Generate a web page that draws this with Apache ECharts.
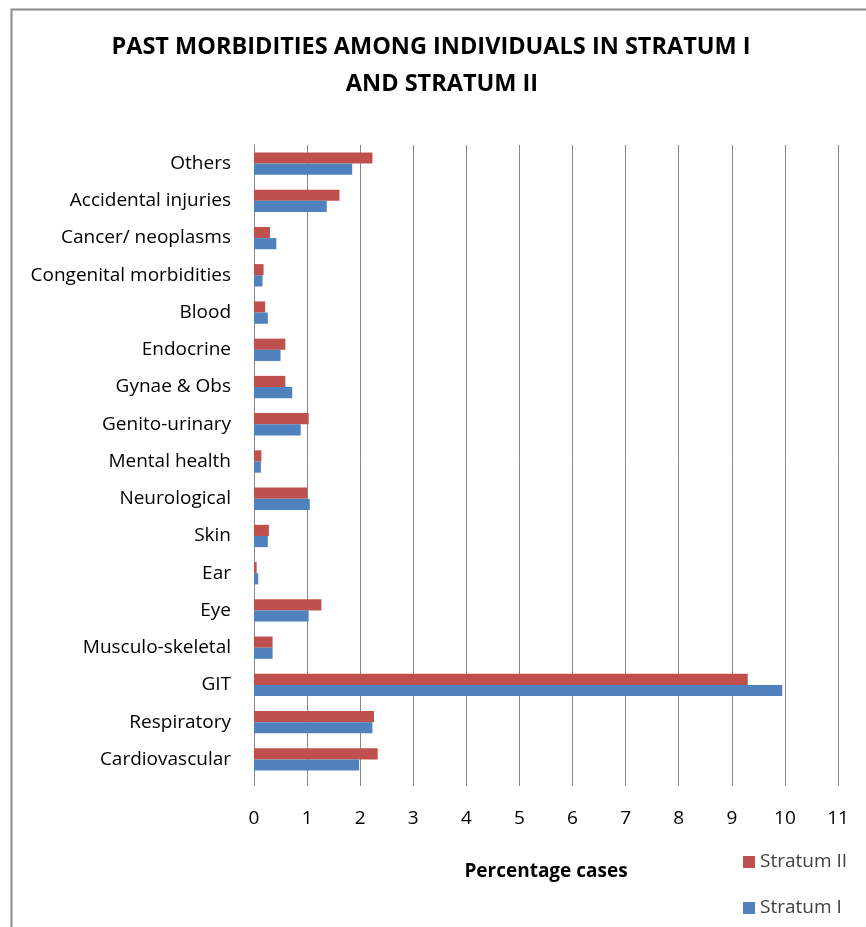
<!DOCTYPE html>
<html>
<head>
<meta charset="utf-8">
<script src="https://cdn.jsdelivr.net/npm/echarts@6/dist/echarts.min.js"></script>
<style>
html,body{margin:0;padding:0;background:#fff;}
#chart{width:866px;height:927px;}
</style>
</head>
<body>
<div id="chart"></div>
<script>
const categories = ['Cardiovascular','Respiratory','GIT','Musculo-skeletal','Eye','Ear','Skin','Neurological','Mental health','Genito-urinary','Gynae & Obs','Endocrine','Blood','Congenital morbidities','Cancer/ neoplasms','Accidental injuries','Others'];
const stratumI  = [1.98, 2.23, 9.95, 0.35, 1.03, 0.08, 0.26, 1.05, 0.13, 0.88, 0.72, 0.50, 0.26, 0.16, 0.42, 1.37, 1.85];
const stratumII = [2.33, 2.26, 9.30, 0.35, 1.27, 0.05, 0.28, 1.00, 0.14, 1.03, 0.59, 0.59, 0.21, 0.18, 0.30, 1.61, 2.23];
const xTicks = [0,1,2,3,4,5,6,7,8,9,10,11];
const titleLines = ['PAST MORBIDITIES AMONG INDIVIDUALS IN STRATUM I', 'AND STRATUM II'];

const FONT = '"Open Sans", "Noto Sans", sans-serif';
const chart = echarts.init(document.getElementById('chart'), null, {renderer:'canvas'});
chart.setOption({
  backgroundColor:'#ffffff',
  animation:false,
  graphic:[
    {
      type:'rect', left:9, top:7, silent:true,
      shape:{x:0,y:0,width:880,height:940},
      style:{fill:'none', stroke:'#8c8c8c', lineWidth:2}
    },
    {
      type:'text', x:431, y:47.5, silent:true,
      style:{text:titleLines[0], fill:'#000', font:'bold 23.5px "Open Sans", sans-serif', textAlign:'center', textVerticalAlign:'middle'}
    },
    {
      type:'text', x:442, y:84.5, silent:true,
      style:{text:titleLines[1], fill:'#000', font:'bold 23.5px "Open Sans", sans-serif', textAlign:'center', textVerticalAlign:'middle'}
    }
  ],
  legend:{
    orient:'vertical', left:738, top:846,
    itemWidth:12, itemHeight:12, itemGap:24,
    icon:'rect',
    data:['Stratum II','Stratum I'],
    textStyle:{fontFamily:FONT, fontSize:19, lineHeight:22, color:'#404040'}
  },
  grid:{left:254, right:28, top:145, bottom:149, containLabel:false},
  xAxis:{
    type:'value', min:0, max:xTicks[xTicks.length-1], interval:1,
    axisLine:{show:false},
    axisTick:{show:true, length:8, lineStyle:{color:'#868686', width:1}},
    splitLine:{show:true, lineStyle:{color:'#868686', width:1}},
    axisLabel:{fontFamily:FONT, fontSize:19, color:'#000', margin:31},
    name:'Percentage cases', nameLocation:'middle', nameGap:84,
    nameTextStyle:{fontFamily:FONT, fontSize:19, fontWeight:'bold', color:'#000'}
  },
  yAxis:{
    type:'category', data:categories,
    axisLine:{show:true, lineStyle:{color:'#868686', width:1}},
    axisTick:{show:false},
    axisLabel:{fontFamily:FONT, fontSize:19, color:'#000', margin:23}
  },
  series:[
    {name:'Stratum II', type:'bar', data:stratumII, itemStyle:{color:'#C0504D'}, barGap:'0%', barCategoryGap:'40%'},
    {name:'Stratum I', type:'bar', data:stratumI, itemStyle:{color:'#4F81BD'}, barGap:'0%', barCategoryGap:'40%'}
  ]
});
</script>
</body>
</html>
